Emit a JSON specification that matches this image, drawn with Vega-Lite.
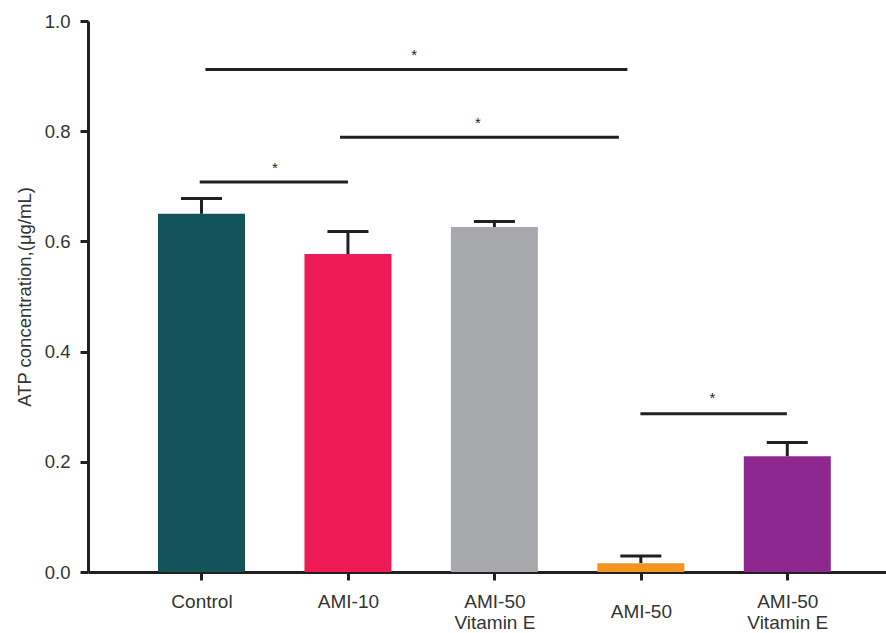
{
  "$schema": "https://vega.github.io/schema/vega-lite/v6.json",
  "width": 798,
  "height": 551,
  "autosize": {"type": "none"},
  "padding": {"left": 88, "top": 21, "right": 0, "bottom": 61},
  "background": "white",
  "config": {
    "view": {"stroke": null},
    "font": "Liberation Sans",
    "axis": {
      "domainColor": "#231f20",
      "tickColor": "#231f20",
      "labelColor": "#333333",
      "titleColor": "#333333",
      "labelFont": "Liberation Sans",
      "titleFont": "Liberation Sans",
      "labelFontSize": 18.5,
      "titleFontSize": 18.5,
      "titleFontWeight": "normal",
      "grid": false,
      "domainWidth": 3,
      "tickWidth": 3,
      "tickSize": 8
    }
  },
  "datasets": {
    "bars": [
      {"pos": 1, "group": "Control", "mean": 0.650, "upper": 0.678},
      {"pos": 2, "group": "AMI-10", "mean": 0.577, "upper": 0.618},
      {"pos": 3, "group": "AMI-50 Vitamin E (a)", "mean": 0.626, "upper": 0.636},
      {"pos": 4, "group": "AMI-50", "mean": 0.016, "upper": 0.029},
      {"pos": 5, "group": "AMI-50 Vitamin E (b)", "mean": 0.210, "upper": 0.235}
    ],
    "sig": [
      {"x1": 1.027, "x2": 3.908, "y": 0.912, "sx": 2.452, "sy": 0.944, "label": "*"},
      {"x1": 1.946, "x2": 3.850, "y": 0.789, "sx": 2.887, "sy": 0.820, "label": "*"},
      {"x1": 0.988, "x2": 2.000, "y": 0.708, "sx": 1.501, "sy": 0.739, "label": "*"},
      {"x1": 3.997, "x2": 4.997, "y": 0.287, "sx": 4.489, "sy": 0.321, "label": "*"}
    ]
  },
  "layer": [
    {
      "data": {"name": "bars"},
      "mark": {"type": "rule", "strokeWidth": 3, "color": "#231f20"},
      "encoding": {
        "x": {
          "field": "pos",
          "type": "quantitative",
          "scale": {"domain": [0.225, 5.674], "nice": false, "zero": false, "padding": 0},
          "axis": {
            "title": null,
            "values": [1, 2, 3, 4, 5],
            "labelExpr": "datum.value == 1 ? 'Control' : datum.value == 2 ? 'AMI-10' : datum.value == 4 ? 'AMI-50' : ['AMI-50', 'Vitamin E']",
            "labelFontSize": 19,
            "labelLineHeight": 21,
            "labelBaseline": "top",
            "labelPadding": {"condition": {"test": "datum.value == 4", "value": 22}, "value": 12},
            "labelFlush": false,
            "labelOverlap": false
          }
        },
        "y": {
          "field": "mean",
          "type": "quantitative",
          "scale": {"domain": [0, 1], "nice": false, "padding": 0},
          "axis": {
            "title": "ATP concentration,(μg/mL)",
            "values": [0, 0.2, 0.4, 0.6, 0.8, 1.0],
            "format": ".1f",
            "labelPadding": 10,
            "titlePadding": 10
          }
        },
        "y2": {"field": "upper"}
      }
    },
    {
      "data": {"name": "bars"},
      "mark": {"type": "tick", "orient": "horizontal", "size": 41, "thickness": 3, "color": "#231f20", "opacity": 1},
      "encoding": {
        "x": {"field": "pos", "type": "quantitative"},
        "y": {"field": "upper", "type": "quantitative"}
      }
    },
    {
      "data": {"name": "bars"},
      "mark": {"type": "bar", "size": 87},
      "encoding": {
        "x": {"field": "pos", "type": "quantitative"},
        "y": {"field": "mean", "type": "quantitative"},
        "color": {
          "field": "group",
          "type": "nominal",
          "sort": null,
          "scale": {
            "domain": ["Control", "AMI-10", "AMI-50 Vitamin E (a)", "AMI-50", "AMI-50 Vitamin E (b)"],
            "range": ["#12545a", "#ed1a55", "#a7a8ab", "#f39320", "#8e278f"]
          },
          "legend": null
        }
      }
    },
    {
      "data": {"name": "sig"},
      "mark": {"type": "rule", "strokeWidth": 3, "color": "#231f20"},
      "encoding": {
        "x": {"field": "x1", "type": "quantitative"},
        "x2": {"field": "x2"},
        "y": {"field": "y", "type": "quantitative"}
      }
    },
    {
      "data": {"name": "sig"},
      "mark": {"type": "text", "fontSize": 15, "color": "#231f20", "baseline": "middle", "align": "center", "dy": 3},
      "encoding": {
        "x": {"field": "sx", "type": "quantitative"},
        "y": {"field": "sy", "type": "quantitative"},
        "text": {"field": "label"}
      }
    }
  ]
}
